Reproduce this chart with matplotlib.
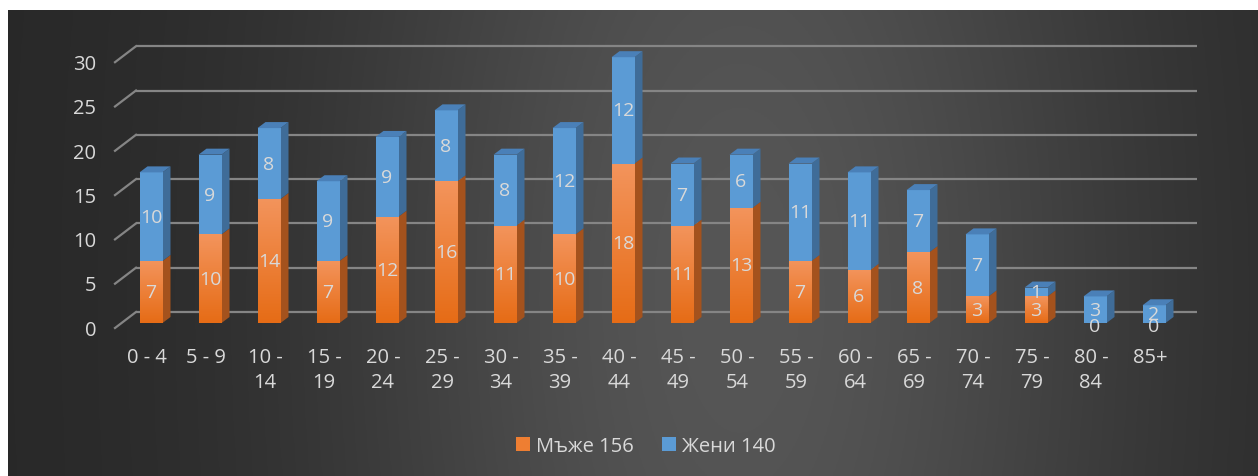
import numpy as np
import matplotlib
matplotlib.use("Agg")
import matplotlib.pyplot as plt
from matplotlib.patches import Polygon, Rectangle, Patch

plt.rcParams['font.family'] = ['Open Sans', 'DejaVu Sans']

# ---- data ----
categories = ["0 - 4", "5 - 9", "10 -\n14", "15 -\n19", "20 -\n24", "25 -\n29", "30 -\n34",
              "35 -\n39", "40 -\n44", "45 -\n49", "50 -\n54", "55 -\n59", "60 -\n64",
              "65 -\n69", "70 -\n74", "75 -\n79", "80 -\n84", "85+"]
men = [7, 10, 14, 7, 12, 16, 11, 10, 18, 11, 13, 7, 6, 8, 3, 3, 0, 0]
women = [10, 9, 8, 9, 9, 8, 8, 12, 12, 7, 6, 11, 11, 7, 7, 1, 3, 2]
yticks = [0, 5, 10, 15, 20, 25, 30]
legend_labels = ["Мъже 156", "Жени 140"]

# ---- style ----
W, H = 1258, 477
TXT = "#d9d9d9"
GRID = "#858585"
OR_TOP, OR_BOT = np.array([0xf3, 0x94, 0x5c]) / 255, np.array([0xe6, 0x6c, 0x16]) / 255
OR_SIDE = "#a4521d"
BL_FRONT, BL_SIDE, BL_TOP = "#5b9bd5", "#3f6c98", "#4a80b8"

fig = plt.figure(figsize=(W / 100, H / 100), dpi=100)
fig.patch.set_facecolor("white")

# background panel with radial gradient
bg = fig.add_axes([8 / W, 0, 1 - 8 / W, 1 - 11 / H])
bg.set_axis_off()
xs = np.linspace(8, W, 400)
ys = np.linspace(11, H, 200)
X, Y = np.meshgrid(xs, ys)
f = np.exp(-((X - 740) ** 2) / (2 * 290 ** 2) - ((Y - 300) ** 2) / (2 * 650 ** 2))
c = (0x27 + (0x56 - 0x27) * f) / 255
img = np.dstack([c, c, c])
bg.imshow(img, extent=[0, 1, 0, 1], aspect="auto", origin="upper")
bg.set_xlim(0, 1)
bg.set_ylim(0, 1)

# main axes mapped so that: px = 151 + 59*x ; py = 324 - 8.86*v
ax = fig.add_axes([0, 0, 1, 1])
ax.set_axis_off()
ax.patch.set_alpha(0)
sx, sy = 59.0, 8.86
ax.set_xlim((0 - 151) / sx, (W - 151) / sx)
ax.set_ylim((324 - H) / sy, 324 / sy)

n = len(categories)
x = np.arange(n)
bw = 23 / sx
ddx, ddy = 8 / sx, 6 / sy

# gridlines (back wall + side diagonal)
back_dy = 11 / sy
front_dy = -5 / sy
xb0, xb1 = (136 - 151) / sx, (1197 - 151) / sx
xf = (115 - 151) / sx
for v in yticks:
    ax.plot([xb0, xb1], [v + back_dy, v + back_dy], color=GRID, lw=1.6, zorder=1,
            solid_capstyle="butt")
    ax.plot([xf, xb0], [v + front_dy, v + back_dy], color=GRID, lw=1.6, zorder=1)
    ax.text((96 - 151) / sx, v + front_dy - 0.2, str(v), color=TXT, fontsize=14.5,
            ha="right", va="center", zorder=5)

# bars
grad = np.linspace(0, 1, 64)[:, None, None]
or_img = OR_TOP[None, None, :] * (1 - grad) + OR_BOT[None, None, :] * grad

for i in range(n):
    xc = x[i]
    segs = [(0, men[i], "m"), (men[i], men[i] + women[i], "w")]
    for (y0, y1, kind) in segs:
        if y1 - y0 <= 0:
            continue
        xl, xr = xc - bw / 2, xc + bw / 2
        side = Polygon([[xr, y0], [xr + ddx, y0 + ddy], [xr + ddx, y1 + ddy], [xr, y1]],
                       closed=True, facecolor=OR_SIDE if kind == "m" else BL_SIDE,
                       edgecolor="none", zorder=3)
        ax.add_patch(side)
        if kind == "m":
            rect = Rectangle((xl, y0), bw, y1 - y0, facecolor="none", edgecolor="none", zorder=3)
            ax.add_patch(rect)
            im = ax.imshow(or_img, extent=[xl, xr, y0, y1], aspect="auto", origin="upper",
                           zorder=3, interpolation="bilinear")
            im.set_clip_path(rect)
        else:
            ax.add_patch(Rectangle((xl, y0), bw, y1 - y0, facecolor=BL_FRONT,
                                   edgecolor="none", zorder=3))
    top = men[i] + women[i]
    xl, xr = xc - bw / 2, xc + bw / 2
    ax.add_patch(Polygon([[xl, top], [xr, top], [xr + ddx, top + ddy], [xl + ddx, top + ddy]],
                         closed=True, facecolor=BL_TOP, edgecolor="none", zorder=3))

# data labels
for i in range(n):
    ym = men[i] / 2 if men[i] > 0 else -0.35
    ax.text(x[i], ym, str(men[i]), color=TXT, fontsize=14, ha="center",
            va="center", zorder=6)
    ax.text(x[i], men[i] + women[i] / 2, str(women[i]), color=TXT, fontsize=14,
            ha="center", va="center", zorder=6)

# category labels
for i in range(n):
    ax.text(x[i] - 4 / sx, (324 - 348) / sy, categories[i], color=TXT, fontsize=14.5,
            ha="center", va="top", linespacing=1.35, zorder=5)

# legend
handles = [Patch(facecolor="#ee7e32", edgecolor="none"), Patch(facecolor=BL_FRONT, edgecolor="none")]
leg = fig.legend(handles, legend_labels, loc="center", bbox_to_anchor=(646 / W, 1 - 447 / H),
                 ncol=2, frameon=False, fontsize=14.5, labelcolor=TXT, handlelength=0.7,
                 handleheight=0.7, handletextpad=0.3, columnspacing=1.4)

fig.savefig("out.png", dpi=100, facecolor=fig.get_facecolor())
